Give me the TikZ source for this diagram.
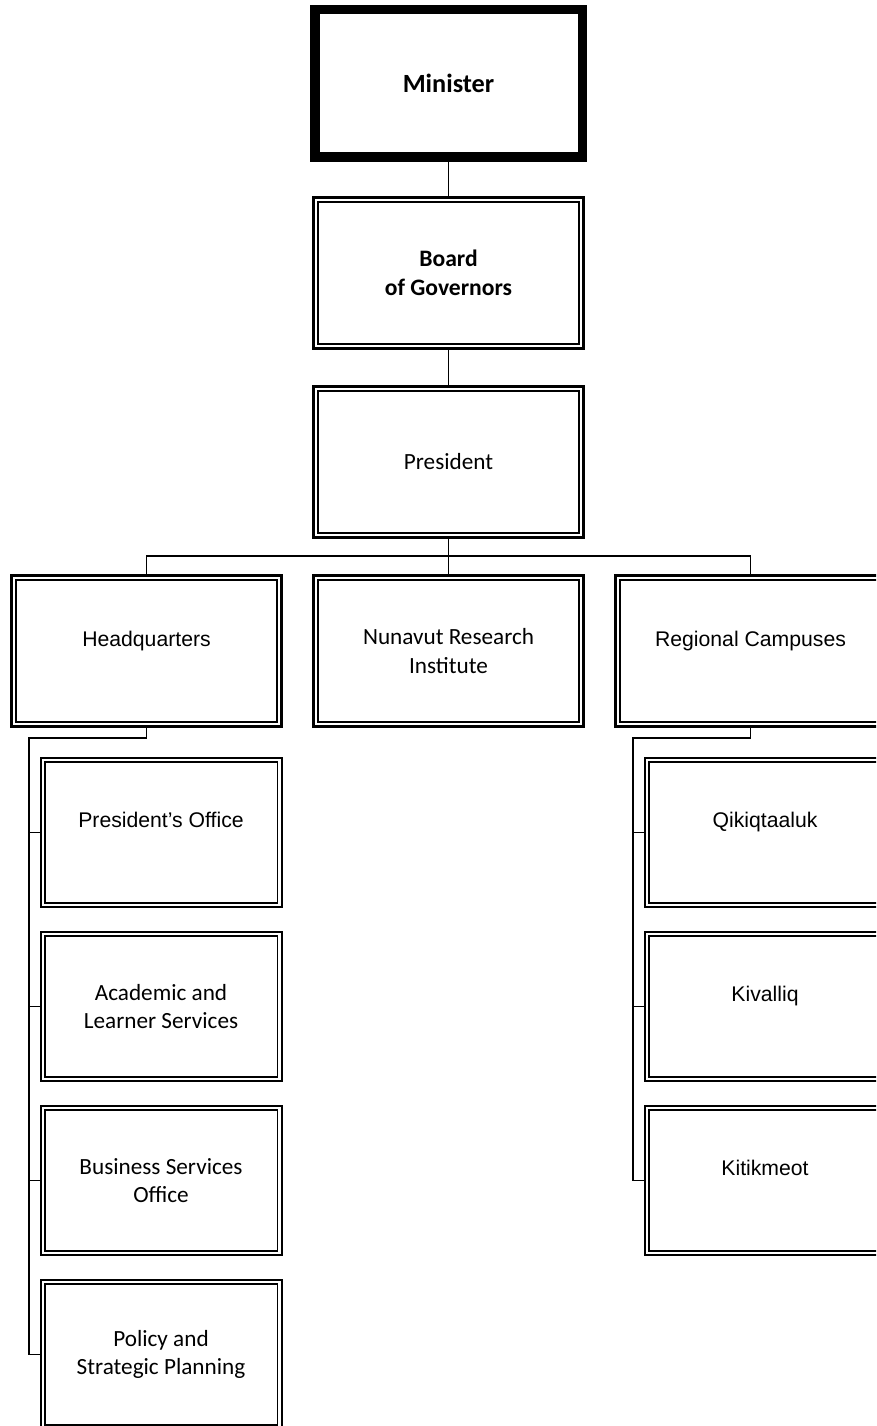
\documentclass[tikz,border=0pt]{standalone}
\usepackage{fontspec}
\setmainfont{Carlito}
\newfontfamily\arialfont{Liberation Sans}
\usetikzlibrary{positioning}

\tikzset{
  ministerbox/.style={draw, line width=7.1pt, minimum width=200.6pt, minimum height=110.6pt,
    inner sep=0pt, outer sep=0pt, align=center, font=\bfseries\fontsize{19.7pt}{23pt}\selectfont},
  topbox/.style={draw, line width=2.25pt, minimum width=202.5pt, minimum height=113.25pt,
    inner sep=0pt, outer sep=0pt, align=center,
    path picture={\draw[line width=1.5pt] ([shift={(3.15pt,-3.15pt)}]path picture bounding box.north west)
      rectangle ([shift={(-3.15pt,3.15pt)}]path picture bounding box.south east);}},
  subbox/.style={draw, line width=1.5pt, minimum width=180.75pt, minimum height=111.75pt,
    inner sep=0pt, outer sep=0pt, align=center,
    path picture={\draw[line width=1.3pt] ([shift={(3.1pt,-3.1pt)}]path picture bounding box.north west)
      rectangle ([shift={(-3.1pt,3.1pt)}]path picture bounding box.south east);}},
  calibri/.style={font=\fontsize{17.4pt}{21.3pt}\selectfont},
  calibrib/.style={font=\bfseries\fontsize{17.7pt}{21.3pt}\selectfont},
  arial/.style={font=\arialfont\fontsize{15.9pt}{18pt}\selectfont, text height=11.5pt, text depth=18.9pt},
  conn/.style={line width=1.1pt},
}

\begin{document}
\begin{tikzpicture}[x=0.75pt, y=0.75pt, node distance=28.5pt and 24pt]
    \useasboundingbox (0,0) rectangle (876,-1426);
    \clip (0,0) rectangle (876,-1426);

    % Top of the chart
    \node[ministerbox] (minister) at (448.5,-83.5) {Minister};
    \node[topbox, calibrib, below=30.2pt of minister] (board) {Board\\of Governors};
    \node[topbox, calibri, below=of board] (president) {President};

    % Second level
    \node[topbox, calibri, below=of president] (nri) {Nunavut Research\\Institute};
    \node[topbox, arial, left=of nri] (hq) {Headquarters};
    \node[topbox, arial, right=of nri] (rc) {Regional Campuses};

    % Headquarters units
    \node[subbox, arial, below left=23.6pt and 0pt of hq.south east] (po) {President’s Office};
    \node[subbox, calibri, below=18.75pt of po] (als) {Academic and\\Learner Services};
    \node[subbox, calibri, below=18.75pt of als] (bso) {Business Services\\Office};
    \node[subbox, calibri, below=18.75pt of bso] (psp) {Policy and\\Strategic Planning};

    % Regional campuses
    \node[subbox, arial, below left=23.6pt and 0pt of rc.south east] (qik) {Qikiqtaaluk};
    \node[subbox, arial, below=18.75pt of qik] (kiv) {Kivalliq};
    \node[subbox, arial, below=18.75pt of kiv] (kit) {Kitikmeot};

    % Connectors
    \draw[conn] (minister) -- (board);
    \draw[conn] (board) -- (president);
    \draw[conn] (president) -- (nri);
    \draw[conn] (hq.north) -- ++(0,14.6pt) -| (rc.north);
    \draw[conn] (hq.south) -- ++(0,-8.6pt) -| ([xshift=-8.6pt]psp.west) -- (psp.west);
    \foreach \unit in {po, als, bso}
      \draw[conn] ([xshift=-8.6pt]\unit.west) -- (\unit.west);
    \draw[conn] (rc.south) -- ++(0,-8.6pt) -| ([xshift=-8.6pt]kit.west) -- (kit.west);
    \foreach \unit in {qik, kiv}
      \draw[conn] ([xshift=-8.6pt]\unit.west) -- (\unit.west);
\end{tikzpicture}
\end{document}
